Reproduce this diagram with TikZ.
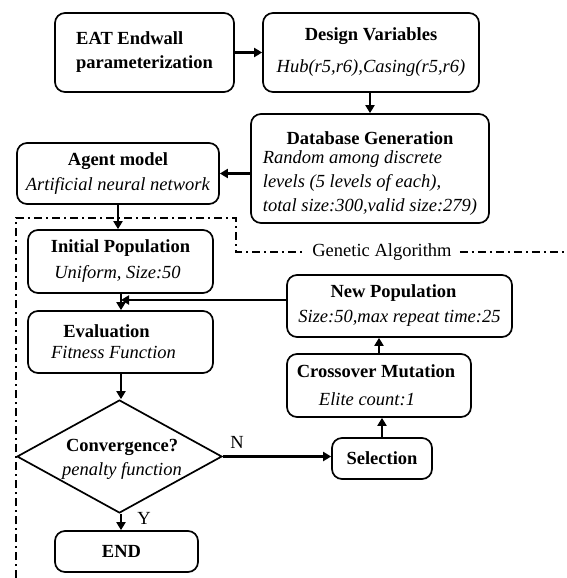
\documentclass[tikz,border=0pt]{standalone}
\usepackage{fontspec}
\setmainfont{Liberation Serif}
\usetikzlibrary{arrows.meta,shapes.geometric}
\begin{document}
\begin{tikzpicture}[x=1pt,y=-1pt,
  every node/.style={font=\fontsize{18.5}{24}\selectfont},
  box/.style={draw, line width=1.7pt, rounded corners=10pt, inner sep=0pt, align=center},
  arr/.style={line width=2.8pt, -{Triangle[length=8pt,width=9pt]}},
  lbl/.style={inner sep=0pt},
  gaframe/.style={line width=2.2pt, dash pattern=on 8pt off 4pt on 2pt off 4pt}
]
\useasboundingbox (0,0) rectangle (566,578);

\node[box, minimum width=179pt, minimum height=79pt, align=left] (eat) at (144.5,52.5)
  {\textbf{EAT Endwall}\\\textbf{parameterization}};
\node[box, minimum width=216pt, minimum height=79pt] (dv) at (371,52.5)
  {\textbf{Design Variables}\\[8pt]\textit{Hub(r5,r6),Casing(r5,r6)}};
\node[box, minimum width=238pt, minimum height=109pt] (db) at (370,168.5)
  {\rule{0pt}{26pt}\textbf{Database Generation}\\[1pt]
   \itshape\begin{tabular}{@{}l@{}}Random among discrete\\levels (5 levels of each),\\total size:300,valid size:279)\end{tabular}};
\node[box, minimum width=202pt, minimum height=61pt] (agent) at (118,173.5)
  {\textbf{Agent model}\\[1pt]\textit{Artificial neural network}};
\node[box, minimum width=185pt, minimum height=63pt] (init) at (120.5,261.5)
  {\textbf{Initial Population}\\[2pt]\textit{Uniform, Size:50}\hspace*{6pt}};
\node[box, minimum width=225pt, minimum height=62pt] (newpop) at (399.5,306)
  {\textbf{New Population}\hspace*{12pt}\\[1pt]\textit{Size:50,max repeat time:25}};
\node[box, minimum width=185pt, minimum height=62pt] (eval) at (120.5,342)
  {\textbf{Evaluation}\hspace*{28pt}\\[-3pt]\textit{Fitness Function}\hspace*{14pt}};
\node[box, minimum width=184pt, minimum height=63pt] (cross) at (379,385.5)
  {\textbf{Crossover Mutation}\hspace*{6pt}\\[4pt]\hspace*{-12pt}\textit{Elite count:1}\hspace*{12pt}};
\node[draw, line width=1.7pt, shape=diamond, minimum width=205pt, minimum height=113pt, inner sep=0pt] (conv) at (119.5,456.5) {};
\node[lbl, align=center] (convtext) at (122,459) {\textbf{Convergence?}\\\textit{penalty function}};
\node[box, minimum width=100pt, minimum height=41pt] (sel) at (382,458.5) {\textbf{Selection}};
\node[box, minimum width=143pt, minimum height=41pt] (end) at (126.5,551.5) {\hspace*{-10pt}\textbf{END}};

\node[lbl] (nlab) at (237,442) {N};
\node[lbl] (ylab) at (144,518) {Y};

\coordinate (join) at (121,300);
\coordinate (upx) at (379,0);

\draw[arr] (eat.east) -- (eat.east -| dv.west);
\draw[arr] (dv.south -| db.north) -- (db.north);
\draw[arr] (db.west |- agent.east) -- (agent.east);
\draw[arr] (agent.south) -- (agent.south |- init.north);
\draw[arr] (join |- init.south) -- (join |- eval.north);
\draw[arr] (newpop.west |- join) -- (join);
\draw[arr] (join |- eval.south) -- (join |- conv.north);
\draw[arr] (conv.east) -- (conv.east -| sel.west);
\draw[arr] (sel.north) -- (sel.north |- cross.south);
\draw[arr] (upx |- cross.north) -- (upx |- newpop.south);
\draw[arr] (join |- conv.south) -- (join |- end.north);

\node[lbl, inner xsep=8pt] (ga) at (382,252) {Genetic Algorithm};
\coordinate (fbl) at (16,578);
\coordinate (fcorner) at (236,218);
\coordinate (fright) at (566,252);
\draw[gaframe] (fbl) |- (fcorner) -- (fcorner |- ga.west) -- (ga.west);
\draw[gaframe] (ga.east) -- (fright);
\end{tikzpicture}
\end{document}
